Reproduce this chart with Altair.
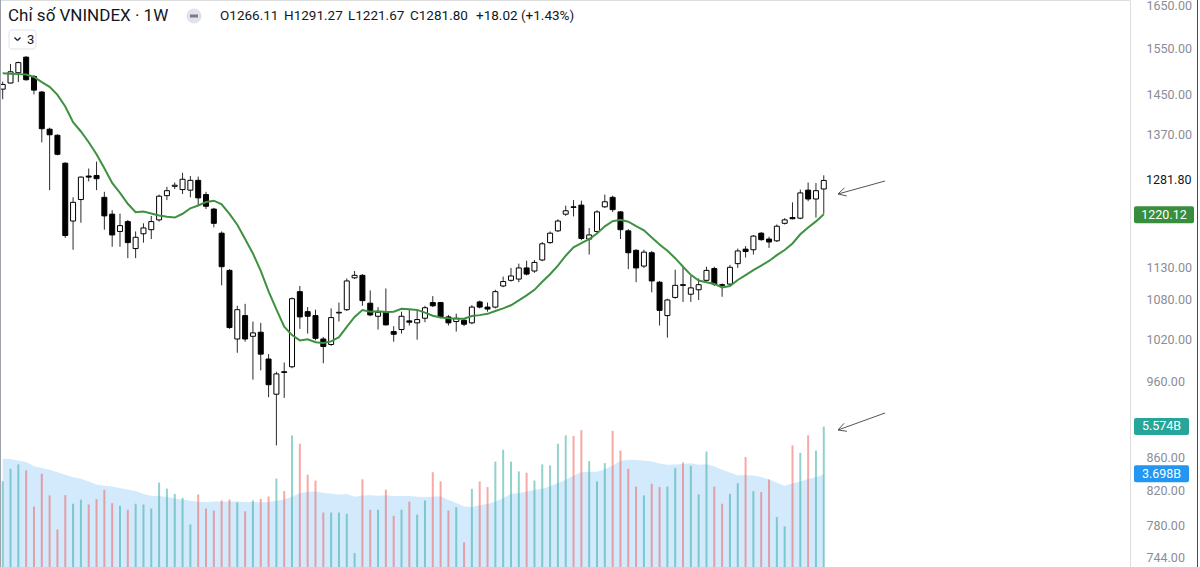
import altair as alt
import numpy as np
import pandas as pd

# ---------------- data (weekly VNINDEX) ----------------
opens = [1462, 1475, 1497, 1531, 1489, 1456, 1380, 1368, 1314, 1209,
         1247, 1290, 1291, 1251, 1221, 1191, 1208, 1162, 1187, 1194,
         1211, 1254, 1271, 1265, 1264, 1282, 1256, 1230, 1188, 1126,
         1020, 1055, 1024, 1030, 991, 942, 973, 980, 1092, 1061,
         1055, 1020, 1012, 1059, 1064, 1114, 1118, 1074, 1054, 1061,
         1031, 1034, 1047, 1044, 1051, 1075, 1075, 1053, 1046, 1048,
         1044, 1076, 1068, 1068, 1101, 1110, 1112, 1130, 1125, 1143,
         1172, 1192, 1221, 1234, 1237, 1178, 1191, 1234, 1251, 1225,
         1192, 1159, 1133, 1155, 1107, 1055, 1083, 1103, 1088, 1095,
         1110, 1129, 1103, 1104, 1137, 1161, 1160, 1188, 1178, 1175,
         1205, 1215, 1214, 1264, 1248, 1266.11]
highs = [1478, 1516, 1521, 1533, 1492, 1458, 1383, 1370, 1316, 1251,
         1289, 1304, 1317, 1261, 1228, 1222, 1211, 1191, 1205, 1218,
         1256, 1270, 1278, 1296, 1290, 1289, 1261, 1232, 1191, 1128,
         1070, 1073, 1046, 1044, 998, 973, 986, 1083, 1101, 1068,
         1064, 1023, 1066, 1075, 1113, 1125, 1120, 1094, 1068, 1097,
         1039, 1061, 1064, 1064, 1070, 1085, 1076, 1056, 1058, 1050,
         1071, 1078, 1075, 1095, 1116, 1130, 1137, 1142, 1143, 1173,
         1191, 1212, 1236, 1246, 1245, 1197, 1228, 1256, 1254, 1226,
         1195, 1161, 1160, 1158, 1109, 1081, 1127, 1133, 1117, 1113,
         1132, 1132, 1105, 1135, 1162, 1166, 1185, 1190, 1182, 1203,
         1214, 1242, 1265, 1278, 1277, 1291.27]
lows = [1441, 1474, 1477, 1480, 1451, 1354, 1264, 1329, 1180, 1160,
        1206, 1280, 1264, 1194, 1165, 1165, 1146, 1146, 1172, 1178,
        1208, 1246, 1266, 1257, 1251, 1236, 1230, 1198, 1102, 1035,
        1000, 1016, 962, 975, 938, 875, 937, 978, 1035, 1028,
        1018, 985, 1010, 1046, 1062, 1112, 1070, 1054, 1034, 1040,
        1016, 1028, 1040, 1019, 1045, 1068, 1051, 1040, 1031, 1039,
        1042, 1066, 1061, 1066, 1099, 1108, 1107, 1118, 1122, 1141,
        1170, 1190, 1218, 1217, 1176, 1152, 1188, 1232, 1225, 1178,
        1128, 1107, 1130, 1091, 1040, 1022, 1081, 1076, 1076, 1079,
        1108, 1101, 1084, 1102, 1130, 1147, 1152, 1175, 1163, 1173,
        1203, 1212, 1212, 1244, 1215, 1221.67]
closes = [1472, 1499, 1519, 1482, 1460, 1381, 1369, 1331, 1184, 1242,
          1288, 1288, 1285, 1218, 1185, 1201, 1172, 1181, 1197, 1208,
          1253, 1263, 1273, 1284, 1282, 1250, 1235, 1205, 1132, 1037,
          1064, 1020, 1029, 998, 955, 970, 972, 1081, 1053, 1054,
          1021, 1009, 1052, 1060, 1109, 1118, 1078, 1056, 1060, 1041,
          1027, 1054, 1045, 1049, 1067, 1070, 1053, 1044, 1051, 1042,
          1068, 1068, 1065, 1092, 1108, 1117, 1130, 1120, 1139, 1170,
          1188, 1209, 1227, 1233, 1179, 1185, 1225, 1243, 1229, 1194,
          1155, 1130, 1156, 1109, 1063, 1079, 1102, 1102, 1098, 1103,
          1126, 1104, 1102, 1131, 1158, 1157, 1183, 1177, 1173, 1200,
          1211, 1213, 1259, 1248, 1263, 1281.80]
volumes = [3.40, 3.90, 4.07, 3.83, 2.40, 3.70, 2.84, 1.49, 2.85, 2.51,
           2.67, 2.48, 2.69, 3.06, 2.53, 2.43, 2.27, 2.51, 2.48, 2.32,
           3.35, 3.11, 2.90, 2.74, 1.69, 2.88, 2.32, 2.24, 2.64, 2.68,
           2.56, 2.21, 2.64, 2.70, 2.80, 3.51, 3.01, 5.22, 4.89, 3.66,
           3.43, 2.16, 2.16, 2.16, 2.11, 0.55, 3.48, 2.27, 2.27, 3.07,
           2.03, 2.27, 2.59, 2.08, 2.64, 3.76, 3.40, 2.24, 2.37, 0.98,
           3.10, 3.39, 3.17, 4.18, 4.65, 4.18, 3.79, 3.74, 3.43, 4.07,
           4.03, 4.89, 5.22, 5.20, 5.43, 4.20, 3.40, 4.12, 5.40, 4.62,
           3.90, 3.19, 2.84, 3.30, 3.17, 3.19, 3.92, 4.15, 4.01, 2.88,
           4.58, 3.19, 2.51, 2.90, 3.32, 4.36, 3.01, 2.97, 3.47, 1.98,
           1.61, 4.82, 4.53, 5.22, 4.62, 5.574]
# moving-average values before enough history is visible
ma10_head = [1496, 1495, 1494, 1493, 1488, 1477, 1467, 1450, 1426]
vma20_head = [4.29, 4.28, 4.22, 4.16, 4.00, 3.93, 3.86, 3.76, 3.66, 3.56,
              3.50, 3.39, 3.27, 3.22, 3.19, 3.13, 3.07, 3.01, 2.90]

axis_values = [1650, 1550, 1450, 1370, 1130, 1080, 1020, 960, 860, 820, 780, 744]
last_close_label = 1281.80
ma_label = 1220.12
vol_label = 5.574
vma_label = 3.698
title_text = "Chỉ số VNINDEX · 1W"
ohlc_texts = ["O1266.11", "H1291.27", "L1221.67", "C1281.80", "+18.02", "(+1.43%)"]

# ---------------- table ----------------
n = len(closes)
df = pd.DataFrame({"i": np.arange(n), "open": opens, "high": highs, "low": lows,
                   "close": closes, "volume": volumes})
df["up"] = df["close"] >= df["open"]
df["body_lo"] = df[["open", "close"]].min(axis=1)
df["body_hi"] = df[["open", "close"]].max(axis=1)
ma = df["close"].rolling(10).mean()
ma.iloc[:len(ma10_head)] = ma10_head
df["ma"] = ma
vma = df["volume"].rolling(20).mean()
vma.iloc[:len(vma20_head)] = vma20_head
df["vma"] = vma

# ---------------- layout ----------------
W, H = 1130, 567
FONT = "Roboto"
xsc = alt.Scale(domain=[-0.345, 144.16], nice=False, zero=False, padding=0)
X = alt.X("i:Q", scale=xsc, axis=None)
psc = alt.Scale(type="log", domain=[734.4, 1662.4], nice=False, zero=False, padding=0)
pax = alt.Axis(orient="right", values=axis_values, format=".2f", title=None,
               ticks=False, tickSize=0, domain=False, grid=False, labelPadding=16,
               labelAlign="left", labelBaseline="middle", labelColor="#8a8d96",
               labelFont=FONT, labelFontSize=12.5, labelOverlap=False)
vsc = alt.Scale(domain=[0, 22.49], nice=False, zero=True, padding=0)

base = alt.Chart(df)

wicks = base.mark_rule(color="#2a2a2a", strokeWidth=1).encode(
    x=X, y=alt.Y("low:Q", scale=psc, axis=pax), y2="high:Q")
bodies = base.mark_bar(size=5, stroke="#000000", strokeWidth=1).encode(
    x=X, y=alt.Y("body_lo:Q", scale=psc, axis=pax), y2="body_hi:Q",
    fill=alt.condition("datum.up", alt.value("#ffffff"), alt.value("#000000")))
ma_line = base.mark_line(color="#3e9140", strokeWidth=2).encode(
    x=X, y=alt.Y("ma:Q", scale=psc, axis=pax))

lbl = pd.DataFrame({"v": [last_close_label], "t": [f"{last_close_label:.2f}"]})
close_lbl = alt.Chart(lbl).mark_text(align="left", baseline="middle", font=FONT,
                                     fontSize=12.5, color="#131722").encode(
    x=alt.value(W + 16), y=alt.Y("v:Q", scale=psc, axis=pax), text="t:N")
mal = pd.DataFrame({"v": [ma_label], "t": [f"{ma_label:.2f}"]})
ma_box = alt.Chart(mal).mark_rect(color="#388e3c", yOffset=-8.5, y2Offset=8.5,
                                  cornerRadius=2).encode(
    x=alt.value(W + 4), x2=alt.value(W + 64),
    y=alt.Y("v:Q", scale=psc, axis=pax), y2="v:Q")
ma_txt = alt.Chart(mal).mark_text(align="center", baseline="middle", font=FONT,
                                  fontSize=12.5, color="#ffffff").encode(
    x=alt.value(W + 34), y=alt.Y("v:Q", scale=psc, axis=pax), text="t:N")

price = alt.layer(wicks, bodies, ma_line, close_lbl, ma_box, ma_txt)

VY = lambda f: alt.Y(f, scale=vsc, axis=None)
vol_area = base.mark_area(color="#2196f3", opacity=0.2).encode(x=X, y=VY("vma:Q"))
vol_bars = base.mark_bar(size=2, opacity=0.5).encode(
    x=X, y=VY("volume:Q"),
    color=alt.condition("datum.up", alt.value("#26a69a"), alt.value("#ef5350")))
vl = pd.DataFrame({"v": [vol_label, vma_label],
                   "t": [f"{vol_label:.3f}B", f"{vma_label:.3f}B"],
                   "c": ["#26a69a", "#2196f3"]})
vol_box = alt.Chart(vl).mark_rect(yOffset=-8.5, y2Offset=8.5, cornerRadius=2).encode(
    x=alt.value(W + 4), x2=alt.value(W + 59), y=VY("v:Q"), y2="v:Q",
    color=alt.Color("c:N", scale=None))
vol_txt = alt.Chart(vl).mark_text(align="center", baseline="middle", font=FONT,
                                  fontSize=12.5, color="#ffffff").encode(
    x=alt.value(W + 31.5), y=VY("v:Q"), text="t:N")
volume = alt.layer(vol_area, vol_bars, vol_box, vol_txt)

# ---------------- header / annotations ----------------
one = pd.DataFrame({"k": [0]})
def txt(s, x, y, size, color="#131722"):
    return alt.Chart(pd.DataFrame({"t": [s]})).mark_text(
        align="left", baseline="middle", font=FONT, fontSize=size, color=color
    ).encode(x=alt.value(x), y=alt.value(y), text="t:N")

def seg(x1, y1, x2, y2, color="#555555", w=1.0):
    return alt.Chart(one).mark_rule(color=color, strokeWidth=w).encode(
        x=alt.value(x1), y=alt.value(y1), x2=alt.value(x2), y2=alt.value(y2))

def arrow(tail, tip, head=9, ang=28):
    (x1, y1), (x0, y0) = tail, tip
    d = np.array([x1 - x0, y1 - y0], float)
    d /= np.linalg.norm(d)
    parts = [seg(x1, y1, x0, y0)]
    for a in (ang, -ang):
        r = np.radians(a)
        v = np.array([d[0] * np.cos(r) - d[1] * np.sin(r),
                      d[0] * np.sin(r) + d[1] * np.cos(r)]) * head
        parts.append(seg(x0, y0, x0 + v[0], y0 + v[1]))
    return parts

header = [txt(title_text, 8, 16, 17)]
header.append(alt.Chart(one).mark_circle(color="#e0e3eb", opacity=1, size=230).encode(
    x=alt.value(194), y=alt.value(16)))
header.append(seg(190, 16, 198, 16, color="#787b86", w=3))
for s, x in zip(ohlc_texts, [220, 284, 348, 410, 476, 521]):
    header.append(txt(s, x, 16, 13.5))
header.append(alt.Chart(one).mark_rect(fill="#ffffff", stroke="#e0e3eb", strokeWidth=1,
                                       cornerRadius=3).encode(
    x=alt.value(9), x2=alt.value(36), y=alt.value(30), y2=alt.value(49)))
header.append(seg(14.5, 37.5, 17.5, 40.5, color="#131722", w=1.2))
header.append(seg(17.5, 40.5, 20.5, 37.5, color="#131722", w=1.2))
header.append(txt("3", 27, 39.5, 13))

annot = arrow((885, 181), (838, 194)) + arrow((885, 413), (838, 430))
borders = [seg(0.5, 0, 0.5, H, color="#a0a3aa"), seg(1197.5, 0, 1197.5, H, color="#4a4a4a")]

chart = alt.layer(volume, price).resolve_scale(y="independent")
chart = alt.layer(chart, *header, *annot, *borders).properties(
    width=W, height=H,
    autosize=alt.AutoSizeParams(type="none"),
    padding={"left": 0, "top": 0, "right": 70, "bottom": 0},
).configure_view(strokeWidth=0).configure(background="#ffffff")

chart.save("out.html", embed_options={"renderer": "svg", "actions": False})
